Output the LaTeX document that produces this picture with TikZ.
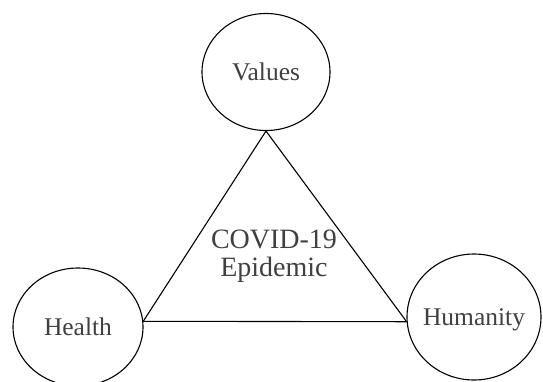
\documentclass[tikz,border=0pt]{standalone}
\usepackage{fontspec}
\setmainfont{Liberation Serif}
\usepackage{tikz}
\usetikzlibrary{shapes.geometric}
\definecolor{labelgray}{RGB}{64,64,64}

\begin{document}
\begin{tikzpicture}[x=1pt, y=-1pt, semithick]
        \tikzset{
           theme/.style={
                        ellipse,
                        draw=black,
                        line width=1.1pt,
                        fill=none,
                        inner sep=0pt
                       },
           themetext/.style={
                        inner sep=0pt,
                        text=labelgray,
                        font=\fontsize{25.5}{30}\selectfont
                       },
           center/.style={
                        align=center,
                        inner sep=0pt,
                        text=labelgray,
                        font=\fontsize{28}{27.5}\selectfont
                       },
           side/.style={
                        draw=black,
                        line width=1.1pt
                       },
                 };
    \useasboundingbox (0,0) rectangle (543,381);
    %--------------------
        \node[theme, minimum width=128pt, minimum height=117pt,
              label={[themetext]center:Values}]   (values)   at (266,72)  {};
        \node[theme, minimum width=130pt, minimum height=118pt,
              label={[themetext]center:Health}]   (health)   at (78,327)  {};
        \node[theme, minimum width=134pt, minimum height=126pt,
              label={[themetext, yshift=-3pt]center:Humanity}] (humanity) at (474,317) {};

        \node[center] (covid) at (274,256) {COVID-19\\Epidemic};
    %--------------------
        \draw[side] (values.south) -- (health.5)
                    (values.south) -- (humanity.184)
                    (health.5)     -- (humanity.184);
    \end{tikzpicture}
\end{document}
